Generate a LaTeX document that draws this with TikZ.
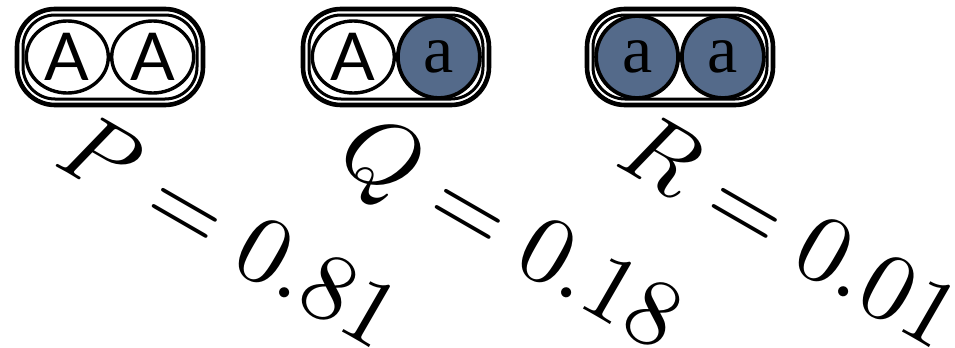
\documentclass[tikz,border=0pt]{standalone}
\usepackage{fontspec}
\usepackage{tikz}
\usetikzlibrary{shapes.geometric, positioning}
\newfontfamily\allelesans{Lato}
\newfontfamily\alleleserif{Liberation Serif}
\definecolor{cAllele}{RGB}{84,106,138}
\tikzset{
	pairbox/.style  ={rectangle, rounded corners=19pt, draw=black, line width=2.3pt, minimum width=93pt, minimum height=48pt},
	pairinner/.style={rectangle, rounded corners=16pt, draw=black, line width=1.5pt, minimum width=87pt, minimum height=42pt},
	% dominant and recessive alleles
	domA/.style     ={ellipse, draw=black, line width=1.7pt, minimum width=41pt, minimum height=36pt, inner sep=0pt, font=\fontsize{33}{36}\allelesans},
	reca/.style     ={circle, draw=black, line width=1.9pt, fill=cAllele, minimum size=41pt, inner sep=0pt, font=\fontsize{34}{36}\alleleserif},
	prob/.style     ={anchor=base west, rotate=-30, inner sep=0pt, scale=4.8},
}
\begin{document}
\begin{tikzpicture}[x=0.5pt, y=-0.5pt]
	\useasboundingbox (0,0) rectangle (955,348);
	% genotype AA
	\node[pairbox] (boxP) at (110,57) {};
	\node[pairinner] (inP) at (boxP.center) {};
	\node[domA, anchor=east] (P1) at (boxP.center) {A};
	\node[domA, anchor=west] (P2) at (boxP.center) {A};
	% genotype Aa
	\node[pairbox] (boxQ) at (396,57) {};
	\node[pairinner] (inQ) at (boxQ.center) {};
	\node[domA, anchor=east] (Q1) at (boxQ.center) {A};
	\node[reca, anchor=west] (Q2) at (boxQ.center) {a};
	% genotype aa
	\node[pairbox] (boxR) at (680,57) {};
	\node[pairinner] (inR) at (boxR.center) {};
	\node[reca, anchor=east] (R1) at (boxR.center) {a};
	\node[reca, anchor=west] (R2) at (boxR.center) {a};
	% probabilities
	\node[prob] (labP) at (51,164) {$P=0.81$};
	\node[prob] (labQ) at (333,164) {$Q=0.18$};
	\node[prob] (labR) at (612,164) {$R=0.01$};
\end{tikzpicture}
\end{document}
